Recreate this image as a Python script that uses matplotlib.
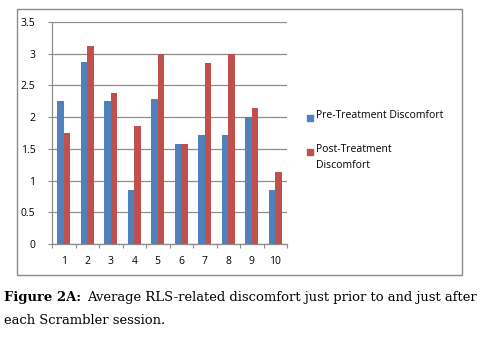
import numpy as np
import matplotlib.pyplot as plt
from matplotlib.patches import Rectangle

# values
sessions = ["1", "2", "3", "4", "5", "6", "7", "8", "9", "10"]
pre_treatment = [2.25, 2.875, 2.25, 0.857, 2.286, 1.571, 1.714, 1.714, 2.0, 0.857]
post_treatment = [1.75, 3.125, 2.375, 1.857, 3.0, 1.571, 2.857, 3.0, 2.143, 1.143]
y_ticks = [0, 0.5, 1, 1.5, 2, 2.5, 3, 3.5]
y_tick_labels = ["0", "0.5", "1", "1.5", "2", "2.5", "3", "3.5"]
series_names = ["Pre-Treatment Discomfort", "Post-Treatment\nDiscomfort"]
series_colors = ["#4F81BD", "#C0504D"]
caption_bold = "Figure 2A:"
caption_line1 = "Average RLS-related discomfort just prior to and just after"
caption_line2 = "each Scrambler session."

W, H = 482, 344
fig = plt.figure(figsize=(W / 100, H / 100), dpi=100)
fig.patch.set_facecolor("white")


def px_box(x0, y0, x1, y1):
    # pixel box (top-left origin) -> figure fraction [left, bottom, width, height]
    return [x0 / W, 1 - y1 / H, (x1 - x0) / W, (y1 - y0) / H]


# outer chart frame
fig.patches.append(Rectangle((17 / W, 1 - 275 / H), (462 - 17) / W, (275 - 9) / H,
                             transform=fig.transFigure, fill=False,
                             edgecolor="#8c8c8c", linewidth=1.0))

ax = fig.add_axes(px_box(52, 22, 287, 244))
x = np.arange(1, len(sessions) + 1)
w = 0.285
ax.bar(x - w / 2, pre_treatment, width=w, color=series_colors[0], zorder=3)
ax.bar(x + w / 2, post_treatment, width=w, color=series_colors[1], zorder=3)

ax.set_xlim(0.5, len(sessions) + 0.5)
ax.set_ylim(0, 3.5)
ax.set_yticks(y_ticks)
ax.set_yticklabels(y_tick_labels)
ax.yaxis.grid(True, color="#8c8c8c", linewidth=0.9, zorder=0)

# category labels centred, tick marks between categories
ax.set_xticks(np.arange(0.5, len(sessions) + 1.5, 1.0))
ax.set_xticklabels([])
ax.set_xticks(x, minor=True)
ax.set_xticklabels(sessions, minor=True)
ax.tick_params(axis="x", which="minor", length=0, pad=9)
ax.tick_params(axis="x", which="major", length=3, color="#8c8c8c", direction="out")
ax.tick_params(axis="y", length=3, color="#8c8c8c", pad=9)
for lab in ax.get_xticklabels(minor=True) + ax.get_yticklabels():
    lab.set_fontfamily("Open Sans")
    lab.set_fontsize(7.5)

for side in ["top", "right"]:
    ax.spines[side].set_visible(False)
for side in ["left", "bottom"]:
    ax.spines[side].set_color("#8c8c8c")
    ax.spines[side].set_linewidth(0.9)

# legend: square swatch next to the first line of each label
legend_tops = [110, 144]
for name, color, top in zip(series_names, series_colors, legend_tops):
    fig.patches.append(Rectangle((307 / W, 1 - (top + 11) / H), 6 / W, 6 / H,
                                 transform=fig.transFigure, color=color))
    fig.text(316 / W, 1 - top / H, name, family="Open Sans", fontsize=7.5,
             va="top", ha="left", linespacing=1.6)

# caption below the chart, first line stretched to the full width
fig.canvas.draw()
renderer = fig.canvas.get_renderer()
size = 11
tb = fig.text(4 / W, 1 - 297 / H, caption_bold, family="DejaVu Serif",
              fontweight="bold", fontsize=size, va="center", ha="left")
tr = fig.text(477 / W, 1 - 297 / H, caption_line1, family="DejaVu Serif",
              fontsize=size, va="center", ha="right")
total = (tb.get_window_extent(renderer).width + tr.get_window_extent(renderer).width)
size = size * 466 / total
tb.set_fontsize(size)
tr.set_fontsize(size)
fig.text(4 / W, 1 - 320 / H, caption_line2, family="DejaVu Serif",
         fontsize=size, va="center", ha="left")

fig.savefig("out.png", dpi=100, facecolor="white")
